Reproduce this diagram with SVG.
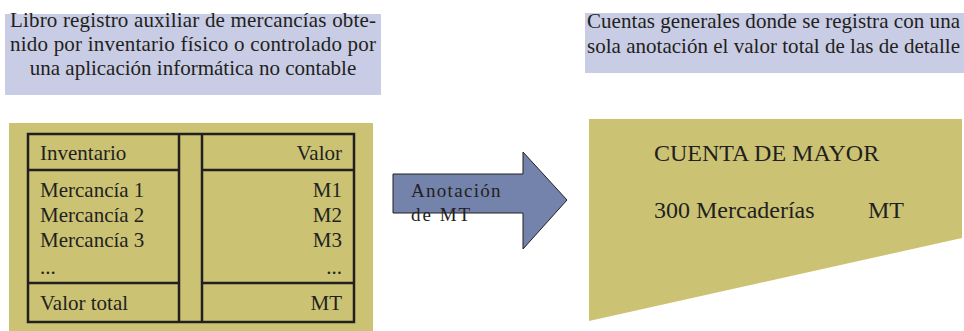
<svg xmlns="http://www.w3.org/2000/svg" width="964" height="331" viewBox="0 0 964 331" font-family="Liberation Serif, Times New Roman, serif">
<style>
.t{font-size:21px;fill:#231f20}
.big{font-size:24px}
.r{text-anchor:end}
.ln{stroke:#231f20;stroke-width:2.5;fill:none}
</style>
<rect width="964" height="331" fill="#ffffff"/>
<g id="note-left" font-family="Liberation Serif, serif">
<rect x="5" y="14" width="376" height="81" fill="#c8cce4"/>
<text class="t" x="10" y="27" textLength="366" lengthAdjust="spacing">Libro registro auxiliar de mercancías obte-</text>
<text class="t" x="10" y="51" textLength="366" lengthAdjust="spacing">nido por inventario físico o controlado por</text>
<text class="t" x="193" y="75" text-anchor="middle">una aplicación informática no contable</text>
</g>
<g id="note-right" font-family="Liberation Serif, serif">
<rect x="585" y="13" width="379" height="60" fill="#c8cce4"/>
<text class="t" x="587" y="28" textLength="373" lengthAdjust="spacing">Cuentas generales donde se registra con una</text>
<text class="t" x="587" y="53" textLength="373" lengthAdjust="spacing">sola anotación el valor total de las de detalle</text>
</g>
<g id="inventory" font-family="Liberation Serif, serif">
<rect x="9" y="123" width="364" height="208" fill="#cbc373"/>
<rect class="ln" x="28" y="134" width="326" height="188"/>
<line class="ln" x1="179" y1="134" x2="179" y2="322"/>
<line class="ln" x1="202" y1="134" x2="202" y2="322"/>
<line class="ln" x1="28" y1="170" x2="179" y2="170"/>
<line class="ln" x1="202" y1="170" x2="354" y2="170"/>
<line class="ln" x1="28" y1="283" x2="179" y2="283"/>
<line class="ln" x1="202" y1="283" x2="354" y2="283"/>
<text class="t" x="40" y="160">Inventario</text>
<text class="t" x="40" y="197">Mercancía 1</text>
<text class="t" x="40" y="222">Mercancía 2</text>
<text class="t" x="40" y="247">Mercancía 3</text>
<text class="t" x="40" y="274">...</text>
<text class="t" x="40" y="310">Valor total</text>
<text class="t r" x="342" y="160">Valor</text>
<text class="t r" x="342" y="197">M1</text>
<text class="t r" x="342" y="222">M2</text>
<text class="t r" x="342" y="247">M3</text>
<text class="t r" x="342" y="274">...</text>
<text class="t r" x="342" y="310">MT</text>
</g>
<g id="connectors" font-family="Liberation Serif, serif">
<g id="arrow">
<polygon points="393,174 523,174 523,152 567,200 523,249 523,213 393,213" fill="#7383ab" stroke="#231f20" stroke-width="1"/>
<text class="t" x="411" y="197" font-size="19" letter-spacing="1.3" style="font-size:19px">Anotación</text>
<text class="t" x="411" y="221" font-size="19" letter-spacing="2" style="font-size:19px">de MT</text>
</g>
</g>
<g id="ledger" font-family="Liberation Serif, serif">
<polygon points="589,119 962,119 962,238 589,321" fill="#cbc373"/>
<text class="t big" x="654" y="161">CUENTA DE MAYOR</text>
<text class="t big" x="654" y="218">300 Mercaderías</text>
<text class="t big" x="868" y="218">MT</text>
</g>
</svg>
